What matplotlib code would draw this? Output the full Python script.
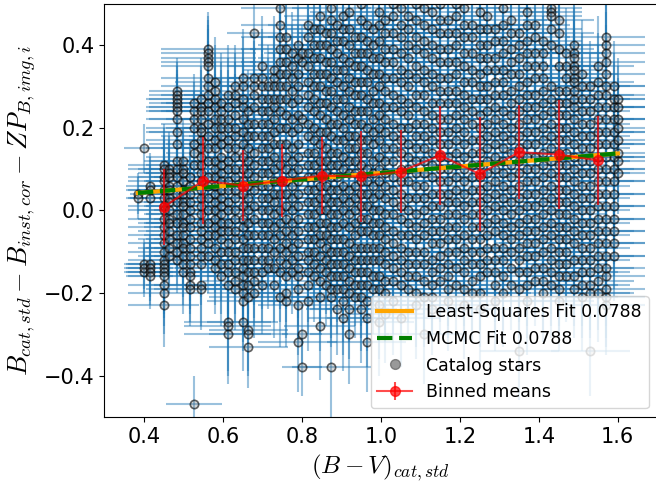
import numpy as np
import matplotlib
matplotlib.use("Agg")
import matplotlib.pyplot as plt
from matplotlib.lines import Line2D

# catalog stars: colour index, colour error, residual error,
# and the residuals measured on each image (in units of 0.01 mag)
star_bv = [0.385, 0.40, 0.415, 0.45, 0.465, 0.483, 0.50, 0.517, 0.527, 0.545,
           0.563, 0.58, 0.595, 0.612, 0.63, 0.65, 0.665, 0.68, 0.70, 0.715,
           0.73, 0.745, 0.76, 0.775, 0.79, 0.80, 0.815, 0.83, 0.845, 0.86,
           0.875, 0.89, 0.905, 0.92, 0.935, 0.95, 0.965, 0.98, 0.995, 1.01,
           1.03, 1.05, 1.07, 1.09, 1.11, 1.13, 1.15, 1.17, 1.19, 1.21,
           1.23, 1.25, 1.27, 1.29, 1.31, 1.33, 1.35, 1.37, 1.39, 1.41,
           1.43, 1.45, 1.47, 1.49, 1.51, 1.53, 1.55, 1.57, 1.59, 1.60]
star_bv_err = [0.02, 0.05, 0.06, 0.09, 0.08, 0.07, 0.10, 0.09, 0.07, 0.14,
               0.12, 0.10, 0.08, 0.11, 0.08, 0.09, 0.10, 0.07, 0.09, 0.06,
               0.08, 0.10, 0.09, 0.07, 0.10, 0.05, 0.10, 0.08, 0.09, 0.07,
               0.10, 0.08, 0.09, 0.10, 0.07, 0.09, 0.10, 0.08, 0.09, 0.10,
               0.09, 0.10, 0.08, 0.09, 0.10, 0.07, 0.09, 0.10, 0.08, 0.09,
               0.10, 0.08, 0.09, 0.10, 0.07, 0.09, 0.10, 0.08, 0.09, 0.10,
               0.08, 0.09, 0.10, 0.08, 0.09, 0.10, 0.09, 0.10, 0.08, 0.07]
star_resid_err = [0.05, 0.06, 0.08, 0.10, 0.09, 0.08, 0.10, 0.09, 0.07, 0.10,
                  0.09, 0.11, 0.12, 0.12, 0.10, 0.12, 0.10, 0.11, 0.12, 0.10,
                  0.13, 0.12, 0.11, 0.10, 0.12, 0.07, 0.12, 0.11, 0.13, 0.10,
                  0.12, 0.11, 0.13, 0.12, 0.10, 0.13, 0.12, 0.11, 0.13, 0.12,
                  0.13, 0.12, 0.11, 0.13, 0.12, 0.11, 0.13, 0.12, 0.11, 0.13,
                  0.12, 0.13, 0.11, 0.12, 0.13, 0.11, 0.12, 0.13, 0.11, 0.12,
                  0.13, 0.12, 0.11, 0.12, 0.13, 0.11, 0.12, 0.12, 0.11, 0.10]
star_resid = [
    "4 3",
    "15 -13 -15 -14",
    "-13 -14 -15 -16 6 3 5",
    "11 10 8 7 5 3 1 0 -2 -4 -6 -8 -10 -12 -13 -14 -15 -16 -18 -20 -23",
    "10 9 8 6 5 3 2 0 -2 -3 -5 -7 -9 -11",
    "29 28 27 26 25 24 22 19 16 12 10 8 6 4 2 -1 -3 -6 -8 -10 -12",
    "12 10 9 7 5 4 2 1 -1 -3 -4 -6 -8 -9 -11 -13 -15",
    "8 6 4 2 0 -2 -4 -7 -9 -11 -13 -15 -16 -18 -19",
    "-47 26 24 22 20 16 14 11",
    "27 25 24 22 20 19 17 15 13 11 9 7 5 3 1 -1 -3 -5 -7 -9 -11 -13 -18 -19",
    "39 38 37 36 35 32 30 28 26 24 21 18 15 12 8 6 3 0 -3 -6 -8 -11",
    "31 29 27 25 22 20 17 15 12 10 8 6 4 2 0 -2 -4 -6 -9 -12 -14",
    "26 24 22 20 18 16 13 11 9 7 5 3 1 -1 -3 -5 -7 -10 -13 -16",
    "28 25 22 20 17 15 12 10 7 5 2 0 -3 -5 -8 -10 -13 -15 -18 -27 -28 -30",
    "30 28 26 23 20 18 15 13 10 8 5 3 0 -2 -5 -7 -10 -12 -15 -17 -19",
    "32 30 27 25 22 19 16 13 10 7 4 1 -2 -4 -7 -9 -12 -14 -16 -18 -20 -22 -27",
    "24 21 18 15 12 9 6 3 0 -3 -6 -9 -12 -15 -18 -21 -29 -30 -33",
    "43 32 30 28 25 21 18 14 11 8 5 1 -2 -6 -9 -12 -15 -17 -20",
    "35 32 30 27 24 21 18 15 12 9 6 3 0 -3 -6 -9 -12 -15 -18",
    "30 27 24 21 18 15 12 9 6 3 0 -3 -6 -9 -12 -14",
    "34 32 30 27 25 22 19 16 13 10 7 4 2 -1 -4 -7 -10 -14 -18",
    "49 45 42 39 36 33 30 27 24 20 16 11 7 4 0 -3 -6 -9 -12 -15 -21",
    "42 39 36 33 30 27 23 20 16 13 10 7 4 1 -2 -5 -8 -10 -13 -16 -20 -22",
    "38 35 32 29 26 22 19 15 12 9 6 3 0 -3 -6 -9 -12 -15",
    "40 37 33 30 27 23 20 16 13 10 7 4 1 -2 -5 -8 -11 -14 -16 -19 -23 -32",
    "-38 38 36 22 -30",
    "45 42 38 35 31 28 25 21 18 14 11 8 5 2 -1 -4 -7 -10 -12 -15 -18 -22",
    "44 40 37 33 30 27 24 20 17 14 11 8 5 2 -1 -4 -7 -10 -13 -16",
    "47 44 40 37 33 30 26 23 19 16 12 9 6 3 0 -3 -6 -8 -11 -14 -17 -21 -28",
    "43 40 36 33 29 26 22 19 15 12 9 6 3 0 -3 -6 -9 -12 -15 -18",
    "49 46 43 39 36 32 29 25 21 18 14 11 8 5 2 -1 -4 -7 -10 -13 -16 -19 -21 -38",
    "45 41 38 34 31 27 24 21 17 14 11 8 5 2 -1 -4 -7 -10 -13 -16 -19 -24",
    "47 44 41 37 34 30 27 23 20 17 13 10 6 3 0 -3 -7 -10 -13 -16 -19 -22 -26",
    "48 44 40 36 32 29 25 22 18 15 12 9 5 2 -1 -4 -8 -11 -14 -17 -20 -24 -30",
    "42 38 35 31 28 24 21 18 15 12 9 6 3 0 -3 -6 -9 -12 -15 -18 -21",
    "50 46 42 38 35 31 28 24 21 17 14 11 7 4 1 -2 -5 -9 -12 -15 -18 -21 -24",
    "45 41 38 34 31 27 24 20 17 14 10 7 4 1 -2 -5 -9 -12 -15 -18 -22 -26 -32",
    "44 40 37 33 29 26 22 19 16 12 9 6 3 0 -3 -6 -9 -12 -16 -19",
    "48 45 41 37 33 30 26 23 20 17 13 10 7 4 0 -3 -6 -9 -12 -16 -19 -23 -27",
    "46 43 39 36 32 29 25 22 19 15 12 9 6 3 -1 -4 -7 -10 -13 -17 -20 -25",
    "50 47 43 39 36 32 28 25 21 18 15 12 8 5 2 -1 -5 -8 -11 -14 -17 -22",
    "49 45 42 38 34 31 27 24 20 17 14 10 7 4 1 -2 -6 -9 -12 -15 -18 -26",
    "47 44 40 37 33 30 26 23 20 16 13 10 7 3 0 -3 -6 -10 -13 -16 -19",
    "50 46 42 39 35 32 28 25 21 18 15 12 9 6 3 -1 -4 -7 -10 -13 -16 -20 -23",
    "49 45 41 38 34 31 28 24 21 18 15 12 9 6 3 0 -3 -6 -10 -13 -17 -21 -30",
    "48 44 40 37 33 30 26 23 20 17 14 11 8 4 1 -2 -5 -8 -12 -15 -18 -21 -24",
    "50 46 43 39 36 32 29 26 22 19 16 13 10 7 4 1 -2 -5 -8 -11 -14 -17",
    "46 43 39 36 32 29 26 22 19 16 13 10 7 4 2 -1 -4 -7 -10 -13 -16 -19 -22",
    "50 47 43 40 36 33 29 26 23 20 17 14 11 8 5 2 -1 -4 -7 -10 -14 -18",
    "49 45 42 38 35 31 28 25 22 19 16 13 10 7 4 1 -2 -6 -9 -12 -15 -19 -23",
    "45 42 38 34 31 27 24 21 17 14 11 8 5 2 -1 -4 -7 -10 -13 -17 -20",
    "48 44 40 37 33 30 27 23 20 17 14 11 8 5 2 -1 -4 -7 -10 -13 -16 -20 -24",
    "47 44 40 37 34 30 27 24 21 18 15 12 9 6 3 0 -3 -6 -9 -12 -15",
    "44 41 37 34 31 28 25 22 19 16 13 10 7 4 1 -2 -5 -9 -12 -15 -18 -22",
    "49 45 41 38 34 31 28 24 21 18 15 12 9 6 3 0 -3 -6 -9 -12 -16 -20",
    "46 43 39 36 33 29 26 23 20 17 14 11 8 5 2 -1 -4 -7 -10 -14 -18",
    "43 40 37 33 30 27 24 21 18 15 12 9 6 3 0 -3 -6 -9 -12 -15 -19 -34",
    "48 45 41 38 35 31 28 25 22 19 16 13 10 7 4 1 -2 -5 -8 -11 -15 -18 -22",
    "45 42 38 35 32 28 25 22 19 16 13 10 7 4 1 -2 -5 -8 -11 -14 -17",
    "41 38 35 32 29 26 23 20 17 14 11 8 5 2 -1 -4 -7 -10 -14 -17 -20",
    "49 48 47 44 40 30 27 24 21 18 15 12 9 6 3 0 -3 -6 -9 -12 -15 -18",
    "46 43 39 35 29 26 23 20 17 14 11 8 5 2 -1 -4 -7 -10 -13 -16 -19 -22",
    "38 35 32 29 26 23 20 17 14 11 8 5 2 -1 -4 -7 -10 -13 -16",
    "40 38 37 35 34 32 31 29 27 25 22 19 16 13 10 7 4 1 -2 -5 -8 -12 -16 -19",
    "33 30 27 24 21 18 15 12 9 6 3 0 -3 -6 -9 -12 -15 -18 -21",
    "30 27 24 21 18 15 12 9 6 3 0 -3 -6 -9 -12 -15 -18 -20 -34",
    "35 31 28 25 22 19 16 13 10 7 4 1 -2 -5 -8 -11 -14 -17 -20",
    "42 40 38 36 33 30 28 25 22 19 16 13 10 7 4 1 -2 -5 -8 -11 -14 -16 -19 -21 -23",
    "30 27 25 22 19 16 13 10 7 4 1 -2 -5 -8 -11",
    "27 25 22 20 17 14 12 9",
]

# binned means
bin_centers = [0.45, 0.55, 0.65, 0.75, 0.85, 0.95, 1.05, 1.15, 1.25, 1.35, 1.45, 1.55]
bin_means = [0.008, 0.072, 0.060, 0.072, 0.084, 0.082, 0.094, 0.133, 0.088, 0.141, 0.135, 0.121]
bin_stds = [0.091, 0.106, 0.087, 0.089, 0.094, 0.111, 0.101, 0.120, 0.139, 0.114, 0.132, 0.108]

# fit results (slope, intercept)
lsq_slope, lsq_icpt = 0.0788, 0.0117
mcmc_slope, mcmc_icpt = 0.0788, 0.0117

plt.rcParams['mathtext.fontset'] = 'cm'

# flatten the per-star lists
x, xe, y, ye = [], [], [], []
for bv, bve, rerr, vals in zip(star_bv, star_bv_err, star_resid_err, star_resid):
    for v in vals.split():
        x.append(bv); xe.append(bve); y.append(int(v) / 100); ye.append(rerr)

fig = plt.figure(figsize=(6.56, 4.83), dpi=100)
ax = fig.add_axes([0.159, 0.137, 0.843, 0.855])

ax.errorbar(x, y, xerr=xe, yerr=ye, fmt='none', ecolor='C0', alpha=0.45,
            elinewidth=1.5, zorder=1)
ax.scatter(x, y, s=36, facecolors=(0.5, 0.5, 0.5, 0.3),
           edgecolors=(0, 0, 0, 0.6), linewidths=1.2, zorder=2)

xfit = np.linspace(min(star_bv), max(star_bv), 100)
ax.plot(xfit, lsq_slope * xfit + lsq_icpt, color='orange', lw=3, zorder=3)
ax.plot(xfit, mcmc_slope * xfit + mcmc_icpt, color='green', ls='--', lw=3, zorder=4)

ax.errorbar(bin_centers, bin_means, yerr=bin_stds, fmt='o-', color='red',
            alpha=0.7, markersize=7, lw=1.5, elinewidth=1.5, zorder=5)

ax.set_xlim(0.3, 1.7)
ax.set_ylim(-0.5, 0.5)
ax.set_xticks([0.4, 0.6, 0.8, 1.0, 1.2, 1.4, 1.6])
ax.set_yticks([-0.4, -0.2, 0.0, 0.2, 0.4])
ax.tick_params(labelsize=15)
ax.set_xlabel(r'$(B-V)_{cat,std}$', fontsize=18)
ax.set_ylabel(r'$B_{cat,std} - B_{inst,cor} - ZP_{B,img,i}$', fontsize=19)

handles = [
    Line2D([], [], color='orange', lw=3),
    Line2D([], [], color='green', ls='--', lw=3),
    Line2D([], [], ls='none', marker='o', markersize=7, color='gray',
           markeredgecolor='dimgray', alpha=0.8),
    ax.containers[-1],
]
labels = ['Least-Squares Fit %.4f' % lsq_slope, 'MCMC Fit %.4f' % mcmc_slope,
          'Catalog stars', 'Binned means']
ax.legend(handles, labels, loc='lower right', fontsize=12.5)

fig.savefig('out.png', dpi=100)
